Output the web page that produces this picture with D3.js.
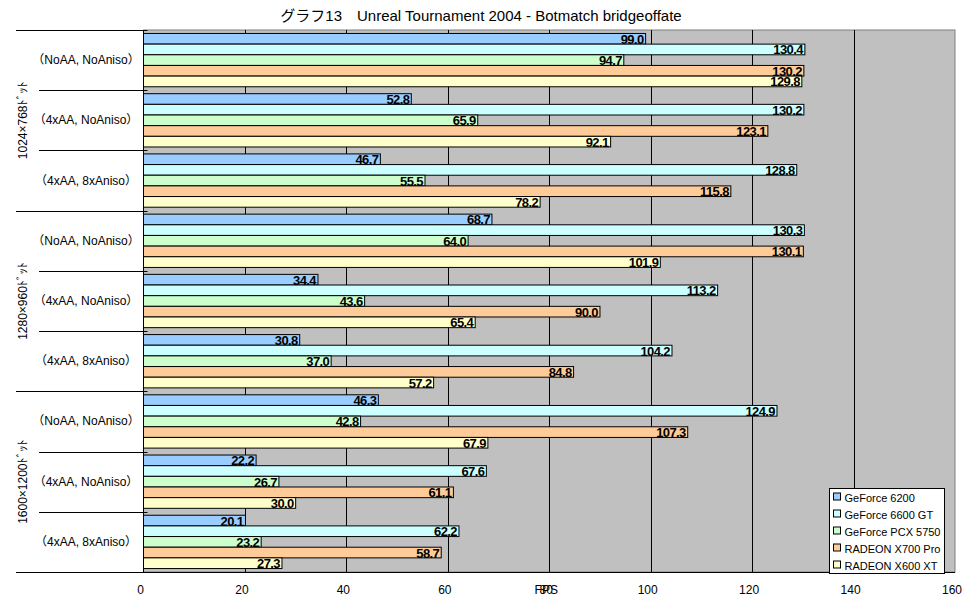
<!DOCTYPE html>
<html>
<head>
<meta charset="utf-8">
<script src="https://cdn.jsdelivr.net/npm/d3@7"></script>
<style>
  body { margin: 0; background: #fff; }
  text { font-family: "Liberation Sans", "Noto Sans CJK JP", sans-serif; }
</style>
</head>
<body>
<div id="chart"></div>
<script>
// data
const resolutions = ["1024×768ﾄﾞｯﾄ", "1280×960ﾄﾞｯﾄ", "1600×1200ﾄﾞｯﾄ"];
const settings = ["（NoAA, NoAniso）", "（4xAA, NoAniso）", "（4xAA, 8xAniso）"];
const seriesNames = ["GeForce 6200", "GeForce 6600 GT", "GeForce PCX 5750", "RADEON X700 Pro", "RADEON X600 XT"];
const seriesColors = ["#99ccff", "#ccffff", "#ccffcc", "#ffcc99", "#ffffcc"];
// one row per group, top to bottom; columns follow seriesNames
const values = [
    [99.0, 130.4, 94.7, 130.2, 129.8],
    [52.8, 130.2, 65.9, 123.1, 92.1],
    [46.7, 128.8, 55.5, 115.8, 78.2],
    [68.7, 130.3, 64.0, 130.1, 101.9],
    [34.4, 113.2, 43.6, 90.0, 65.4],
    [30.8, 104.2, 37.0, 84.8, 57.2],
    [46.3, 124.9, 42.8, 107.3, 67.9],
    [22.2, 67.6, 26.7, 61.1, 30.0],
    [20.1, 62.2, 23.2, 58.7, 27.3]
];
const xTicks = [0, 20, 40, 60, 80, 100, 120, 140, 160];
const chartTitle = "グラフ13　Unreal Tournament 2004 - Botmatch bridgeoffate";
const axisTitle = "FPS";

// spacing
const width = 972, height = 604;
const margin = ({top: 30, right: 17, bottom: 32, left: 143.5});
const plotRight = width - margin.right;
const plotBottom = height - margin.bottom;

const groups = d3.range(values.length);
const xScale = d3.scaleLinear([0, 160], [margin.left, plotRight]);
const yScale = d3.scaleBand(groups, [margin.top, plotBottom])
    .paddingInner(0.115)
    .paddingOuter(0.0575);
const ySub = d3.scaleBand(d3.range(seriesNames.length), [0, yScale.bandwidth()]);

const svg = d3.select("#chart").append("svg")
    .attr("width", width)
    .attr("height", height)
    .attr("viewBox", [0, 0, width, height]);

// title
svg.append("text")
    .attr("x", 481)
    .attr("y", 21)
    .attr("text-anchor", "middle")
    .attr("font-size", 15)
    .text(chartTitle);

// plot background
svg.append("rect")
    .attr("x", margin.left)
    .attr("y", margin.top)
    .attr("width", plotRight - margin.left)
    .attr("height", plotBottom - margin.top)
    .attr("fill", "#c0c0c0")
    .attr("stroke", "#808080");

// grid lines
svg.append("g")
    .selectAll("line")
    .data(xTicks.slice(1, -1))
    .join("line")
    .attr("x1", d => Math.round(xScale(d)) + 0.5)
    .attr("x2", d => Math.round(xScale(d)) + 0.5)
    .attr("y1", margin.top)
    .attr("y2", plotBottom)
    .attr("stroke", "#000");

// bars
const gBars = svg.append("g")
    .selectAll("g")
    .data(values)
    .join("g")
    .attr("transform", (d, i) => `translate(0,${yScale(i)})`);

gBars.selectAll("rect")
    .data(d => d)
    .join("rect")
    .attr("x", xScale(0))
    .attr("y", (d, j) => ySub(j))
    .attr("width", d => xScale(d) - xScale(0))
    .attr("height", ySub.bandwidth())
    .attr("fill", (d, j) => seriesColors[j])
    .attr("stroke", "#000");

gBars.selectAll("text")
    .data(d => d)
    .join("text")
    .attr("x", d => xScale(d) - 2)
    .attr("y", (d, j) => ySub(j) + ySub.bandwidth() / 2 + 5)
    .attr("text-anchor", "end")
    .attr("font-size", 13)
    .attr("font-weight", "bold")
    .attr("letter-spacing", -0.6)
    .text(d => d.toFixed(1));

// category axis
const catAxis = svg.append("g");
const bounds = d3.range(values.length + 1).map(i =>
    i < values.length ? yScale(i) - yScale.step() * yScale.paddingInner() / 2 : plotBottom);
bounds[0] = margin.top;
catAxis.selectAll("line")
    .data(bounds)
    .join("line")
    .attr("x1", (d, i) => i % 3 == 0 ? 16 : 39)
    .attr("x2", margin.left + 4)
    .attr("y1", d => Math.round(d) + 0.5)
    .attr("y2", d => Math.round(d) + 0.5)
    .attr("stroke", "#000");
catAxis.append("line")
    .attr("x1", margin.left).attr("x2", margin.left)
    .attr("y1", margin.top).attr("y2", plotBottom)
    .attr("stroke", "#000");

catAxis.selectAll("text.setting")
    .data(groups)
    .join("text")
    .attr("class", "setting")
    .attr("x", 86)
    .attr("y", i => yScale(i) + yScale.bandwidth() / 2 + 4)
    .attr("text-anchor", "middle")
    .attr("font-size", 12)
    .text(i => settings[i % 3]);

catAxis.selectAll("text.res")
    .data(resolutions)
    .join("text")
    .attr("class", "res")
    .attr("transform", (d, i) => `translate(27,${(bounds[i * 3] + bounds[i * 3 + 3]) / 2}) rotate(-90)`)
    .attr("text-anchor", "middle")
    .attr("font-size", 12)
    .text(d => d);

// value axis
svg.append("line")
    .attr("x1", 16).attr("x2", plotRight)
    .attr("y1", plotBottom + 0.5).attr("y2", plotBottom + 0.5)
    .attr("stroke", "#000");
svg.append("g")
    .selectAll("text")
    .data(xTicks)
    .join("text")
    .attr("x", d => xScale(d) - 3)
    .attr("y", plotBottom + 22)
    .attr("text-anchor", "middle")
    .attr("font-size", 12)
    .text(d => d);
svg.append("text")
    .attr("x", xScale(80) - 3)
    .attr("y", plotBottom + 22)
    .attr("text-anchor", "middle")
    .attr("font-size", 12)
    .text(axisTitle);

// legend
const legend = svg.append("g").attr("transform", "translate(829.5,488.5)");
legend.append("rect")
    .attr("width", 115)
    .attr("height", 85)
    .attr("fill", "#fff")
    .attr("stroke", "#000");
const items = legend.selectAll("g")
    .data(seriesNames)
    .join("g")
    .attr("transform", (d, i) => `translate(4,${4 + i * 17})`);
items.append("rect")
    .attr("y", 0.5)
    .attr("width", 7)
    .attr("height", 7)
    .attr("fill", (d, i) => seriesColors[i])
    .attr("stroke", "#000");
items.append("text")
    .attr("x", 11)
    .attr("y", 9)
    .attr("font-size", 11)
    .text(d => d);
</script>
</body>
</html>
